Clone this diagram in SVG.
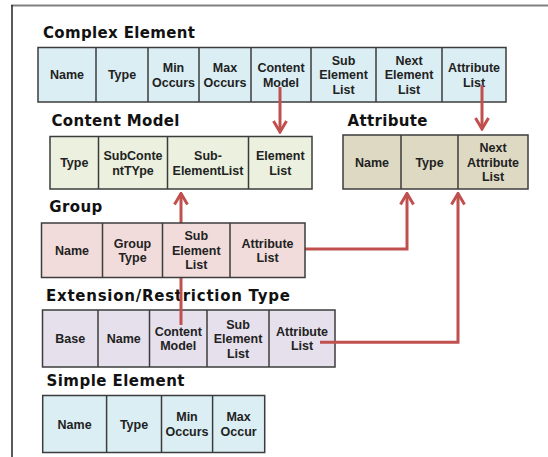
<svg xmlns="http://www.w3.org/2000/svg" width="548" height="457" viewBox="0 0 548 457">
<defs>
<style>
.title{font-family:"DejaVu Sans","Liberation Sans",sans-serif;font-weight:bold;font-size:15px;fill:#111}
.cell{font-family:"Liberation Sans",Arial,sans-serif;font-weight:bold;font-size:12.5px;fill:#222;text-anchor:middle}
.box{stroke:#3c3c3c;stroke-width:1.5}
.div{stroke:#3c3c3c;stroke-width:1.5}
.conn{fill:none;stroke:#c0504d;stroke-width:3}
</style>
<marker id="ah" viewBox="-14 -9 16 18" refX="0" refY="0" markerWidth="16" markerHeight="18" markerUnits="userSpaceOnUse" orient="auto">
<path d="M-11,-6.5 L0,0 L-11,6.5" fill="none" stroke="#c0504d" stroke-width="3"/>
</marker>
</defs>
<rect width="548" height="457" fill="#fff"/>
<path d="M11,5.5 H548" stroke="#808080" stroke-width="2"/>
<path d="M12,5 V457" stroke="#222" stroke-width="1.5"/>

<g id="complex-element">
<text class="title" x="43" y="37.5" textLength="152" lengthAdjust="spacing">Complex Element</text>
<rect class="box" x="38" y="47.5" width="468" height="54.5" fill="#dbeef4"/>
<path class="div" d="M96,47.5V102M148,47.5V102M199,47.5V102M251,47.5V102M311,47.5V102M376,47.5V102M442,47.5V102"/>
<text class="cell" x="67" y="79.3">Name</text>
<text class="cell" x="122" y="79.3">Type</text>
<text class="cell" x="173.5" y="72">Min</text><text class="cell" x="173.5" y="86.5">Occurs</text>
<text class="cell" x="225" y="72">Max</text><text class="cell" x="225" y="86.5">Occurs</text>
<text class="cell" x="281" y="72">Content</text><text class="cell" x="281" y="86.5">Model</text>
<text class="cell" x="343.5" y="64.8">Sub</text><text class="cell" x="343.5" y="79.3">Element</text><text class="cell" x="343.5" y="93.8">List</text>
<text class="cell" x="409" y="64.8">Next</text><text class="cell" x="409" y="79.3">Element</text><text class="cell" x="409" y="93.8">List</text>
<text class="cell" x="474" y="72">Attribute</text><text class="cell" x="474" y="86.5">List</text>
</g>

<g id="extension-restriction-type">
<text class="title" x="46" y="301" textLength="244" lengthAdjust="spacing">Extension/Restriction Type</text>
<rect class="box" x="42.5" y="310" width="292.5" height="57" fill="#e5e0ec"/>
<path class="div" d="M98,310V367M149.5,310V367M207,310V367M269,310V367"/>
<text class="cell" x="70.25" y="343">Base</text>
<text class="cell" x="123.75" y="343">Name</text>
<text class="cell" x="178.25" y="335.7">Content</text><text class="cell" x="178.25" y="350.2">Model</text>
<text class="cell" x="238" y="328.5">Sub</text><text class="cell" x="238" y="343">Element</text><text class="cell" x="238" y="357.5">List</text>
<text class="cell" x="302" y="335.7">Attribute</text><text class="cell" x="302" y="350.2">List</text>
</g>

<g id="content-model">
<text class="title" x="51.5" y="125.5" textLength="128" lengthAdjust="spacing">Content Model</text>
<rect class="box" x="50" y="136.5" width="262" height="52.5" fill="#ebf1de"/>
<path class="div" d="M98.5,136.5V189M167.5,136.5V189M248.5,136.5V189"/>
<text class="cell" x="74.25" y="167.3">Type</text>
<text class="cell" x="133" y="160">SubConte</text><text class="cell" x="133" y="174.5">ntTYpe</text>
<text class="cell" x="208" y="160">Sub-</text><text class="cell" x="208" y="174.5">ElementList</text>
<text class="cell" x="280.25" y="160">Element</text><text class="cell" x="280.25" y="174.5">List</text>
</g>

<g id="attribute">
<text class="title" x="347.5" y="125.5" textLength="80" lengthAdjust="spacing">Attribute</text>
<rect class="box" x="343" y="135" width="185" height="54" fill="#ddd9c3"/>
<path class="div" d="M401,135V189M458,135V189"/>
<text class="cell" x="372" y="166.5">Name</text>
<text class="cell" x="429.5" y="166.5">Type</text>
<text class="cell" x="493" y="152">Next</text><text class="cell" x="493" y="166.5">Attribute</text><text class="cell" x="493" y="181">List</text>
</g>

<g id="simple-element">
<text class="title" x="46.5" y="386" textLength="138" lengthAdjust="spacing">Simple Element</text>
<rect class="box" x="42.7" y="395.5" width="222" height="57" fill="#dbeef4"/>
<path class="div" d="M106.6,395.5V452.5M161.5,395.5V452.5M212.6,395.5V452.5"/>
<text class="cell" x="74.6" y="428.5">Name</text>
<text class="cell" x="134" y="428.5">Type</text>
<text class="cell" x="187" y="421.2">Min</text><text class="cell" x="187" y="435.7">Occurs</text>
<text class="cell" x="238.6" y="421.2">Max</text><text class="cell" x="238.6" y="435.7">Occur</text>
</g>

<g id="connectors">
<path class="conn" d="M280,87 V132" marker-end="url(#ah)"/>
<path class="conn" d="M482,85 V129" marker-end="url(#ah)"/>
<path class="conn" d="M181,325 V193.5" marker-end="url(#ah)"/>
<path class="conn" d="M305,249 H407 V193.5" marker-end="url(#ah)"/>
<path class="conn" d="M320,342.3 H458 V193.5" marker-end="url(#ah)"/>
</g>

<g id="group">
<text class="title" x="49.3" y="212" textLength="53" lengthAdjust="spacing">Group</text>
<rect class="box" x="41.5" y="223" width="263.5" height="54.5" fill="#f2dcdb"/>
<path class="div" d="M102.5,223V277.5M162.5,223V277.5M230,223V277.5"/>
<text class="cell" x="72" y="254.8">Name</text>
<text class="cell" x="132.5" y="247.5">Group</text><text class="cell" x="132.5" y="262">Type</text>
<text class="cell" x="196.25" y="240.3">Sub</text><text class="cell" x="196.25" y="254.8">Element</text><text class="cell" x="196.25" y="269.3">List</text>
<text class="cell" x="267.5" y="247.5">Attribute</text><text class="cell" x="267.5" y="262">List</text>
</g>
</svg>
